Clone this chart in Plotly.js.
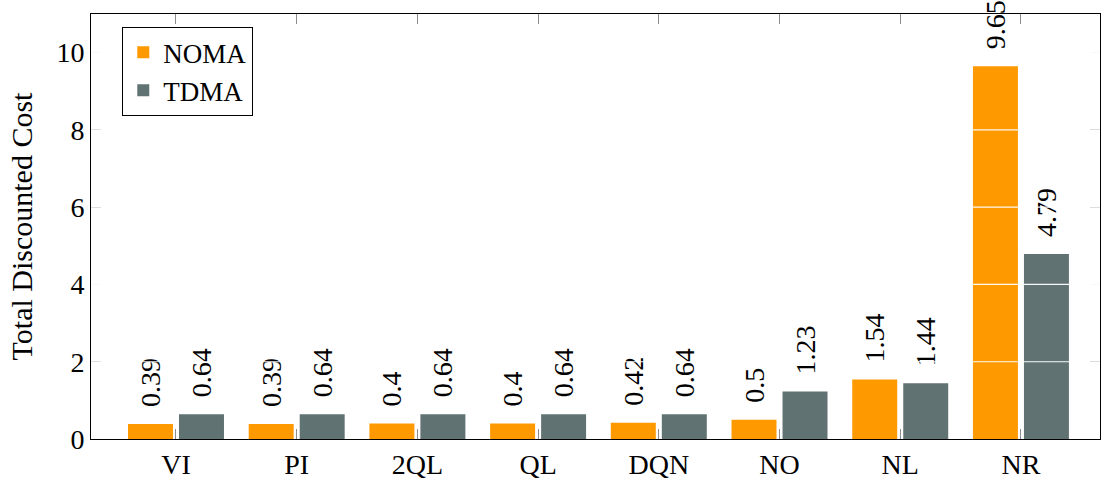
<!DOCTYPE html>
<html>
<head>
<meta charset="utf-8">
<script src="https://cdn.plot.ly/plotly-3.0.1.min.js"></script>
<style>html,body{margin:0;padding:0;background:#fff;}#chart{width:1102px;height:479px;}</style>
</head>
<body>
<div id="chart"></div>
<script>
var categories = ["VI", "PI", "2QL", "QL", "DQN", "NO", "NL", "NR"];
var nomaValues = [0.39, 0.39, 0.4, 0.4, 0.42, 0.5, 1.54, 9.65];
var tdmaValues = [0.64, 0.64, 0.64, 0.64, 0.64, 1.23, 1.44, 4.79];
var yTickValues = [0, 2, 4, 6, 8, 10];
var gridValues = [2, 4, 6, 8, 10];

var FONT = "Liberation Serif";
var FS = 28;

function barTrace(name, vals, color) {
  return {
    type: "bar",
    name: name,
    x: categories,
    y: vals,
    marker: {color: color, line: {width: 0}},
    text: vals.map(function (v) { return "\u2002" + v; }),
    texttemplate: "%{text}",
    textposition: "outside",
    textangle: -90,
    constraintext: "none",
    cliponaxis: false,
    textfont: {family: FONT, size: FS, color: "#000"},
    hoverinfo: "skip"
  };
}

var data = [
  barTrace("NOMA", nomaValues, "#ff9900"),
  barTrace("TDMA", tdmaValues, "#617273")
];

var shapes = gridValues.map(function (g) {
  return {type: "line", xref: "paper", yref: "y", x0: 0, x1: 1, y0: g, y1: g,
          layer: "above", line: {color: "rgba(255,255,255,0.95)", width: 1.2}};
});

var layout = {
  width: 1102, height: 479,
  margin: {l: 91, r: 2, t: 14, b: 40},
  paper_bgcolor: "#fff", plot_bgcolor: "#fff",
  font: {family: FONT, size: FS, color: "#000"},
  barmode: "group",
  bargap: 0.155,
  bargroupgap: 0.118,
  showlegend: true,
  legend: {
    x: 0.031, y: 0.969, xanchor: "left", yanchor: "top",
    bgcolor: "#fff", bordercolor: "#000", borderwidth: 1,
    font: {family: FONT, size: 27, color: "#000"},
    tracegroupgap: 0, itemwidth: 30
  },
  xaxis: {
    type: "category",
    range: [-0.704, 7.655],
    showgrid: false, zeroline: false,
    ticks: "inside", ticklen: 10, tickwidth: 1, tickcolor: "#8c8c8c",
    showline: true, linecolor: "#000", linewidth: 1, mirror: "ticks",
    tickfont: {family: FONT, size: FS, color: "#000"},
    automargin: false
  },
  yaxis: {
    range: [0, 11],
    tickvals: yTickValues,
    ticktext: yTickValues.map(String),
    showgrid: false, zeroline: false,
    ticks: "inside", ticklen: 10, tickwidth: 1, tickcolor: "#8c8c8c",
    showline: true, linecolor: "#000", linewidth: 1, mirror: "ticks",
    tickfont: {family: FONT, size: FS, color: "#000"},
    title: {text: "Total Discounted Cost", font: {family: FONT, size: 30, color: "#000"}, standoff: 14},
    automargin: false
  },
  shapes: shapes
};

Plotly.newPlot("chart", data, layout, {displayModeBar: false, staticPlot: true});
</script>
</body>
</html>
